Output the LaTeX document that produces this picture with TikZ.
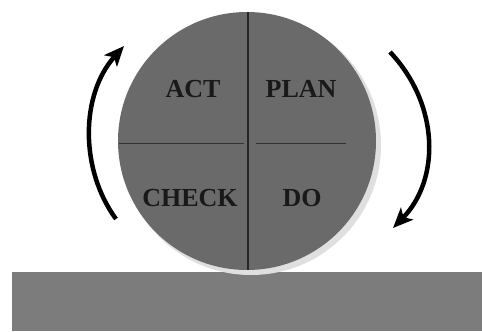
\documentclass[tikz,border=0pt]{standalone}
\usepackage{fontspec}
\setmainfont{Liberation Serif}
\usetikzlibrary{arrows.meta}
\definecolor{wheelgray}{HTML}{6A6A6A}
\definecolor{groundgray}{HTML}{7C7C7C}
\tikzset{
  label/.style={font=\fontsize{26}{26}\selectfont\bfseries, text=black!90},
  cyclearrow/.style={line width=4.5pt, -{Stealth[length=20pt,width=17pt,inset=5pt]}},
}
\begin{document}
\begin{tikzpicture}[x=1pt,y=-1pt]
        \useasboundingbox (0,0) rectangle (482,332);
        \fill[white] (0,0) rectangle (482,332);
        % ground
        \fill[groundgray] (12,272) rectangle (482,331);
        % wheel
        \fill[gray!25] (251,145) circle (130);
        \fill[wheelgray] (247,141) circle (129);
        \draw[black!85, line width=1.2pt] (248,12)--(248,270);
        \draw[black!80, line width=0.9pt] (119,143)--(244,143);
        \draw[black!80, line width=0.9pt] (256,143)--(346,143);
        \node[label] (act)   at (193,89)  {ACT};
        \node[label] (plan)  at (301,89)  {PLAN};
        \node[label] (check) at (190,198) {CHECK};
        \node[label] (do)    at (302,198) {DO};
        % arrows
        \coordinate (lstart) at (116,219); \coordinate (lend) at (124,46);
        \coordinate (rstart) at (390,52);  \coordinate (rend) at (393,228);
        \draw[cyclearrow] (lstart) .. controls (80,170) and (80,95) .. (lend);
        \draw[cyclearrow] (rstart) .. controls (440,105) and (440,180) .. (rend);
    \end{tikzpicture}
\end{document}
